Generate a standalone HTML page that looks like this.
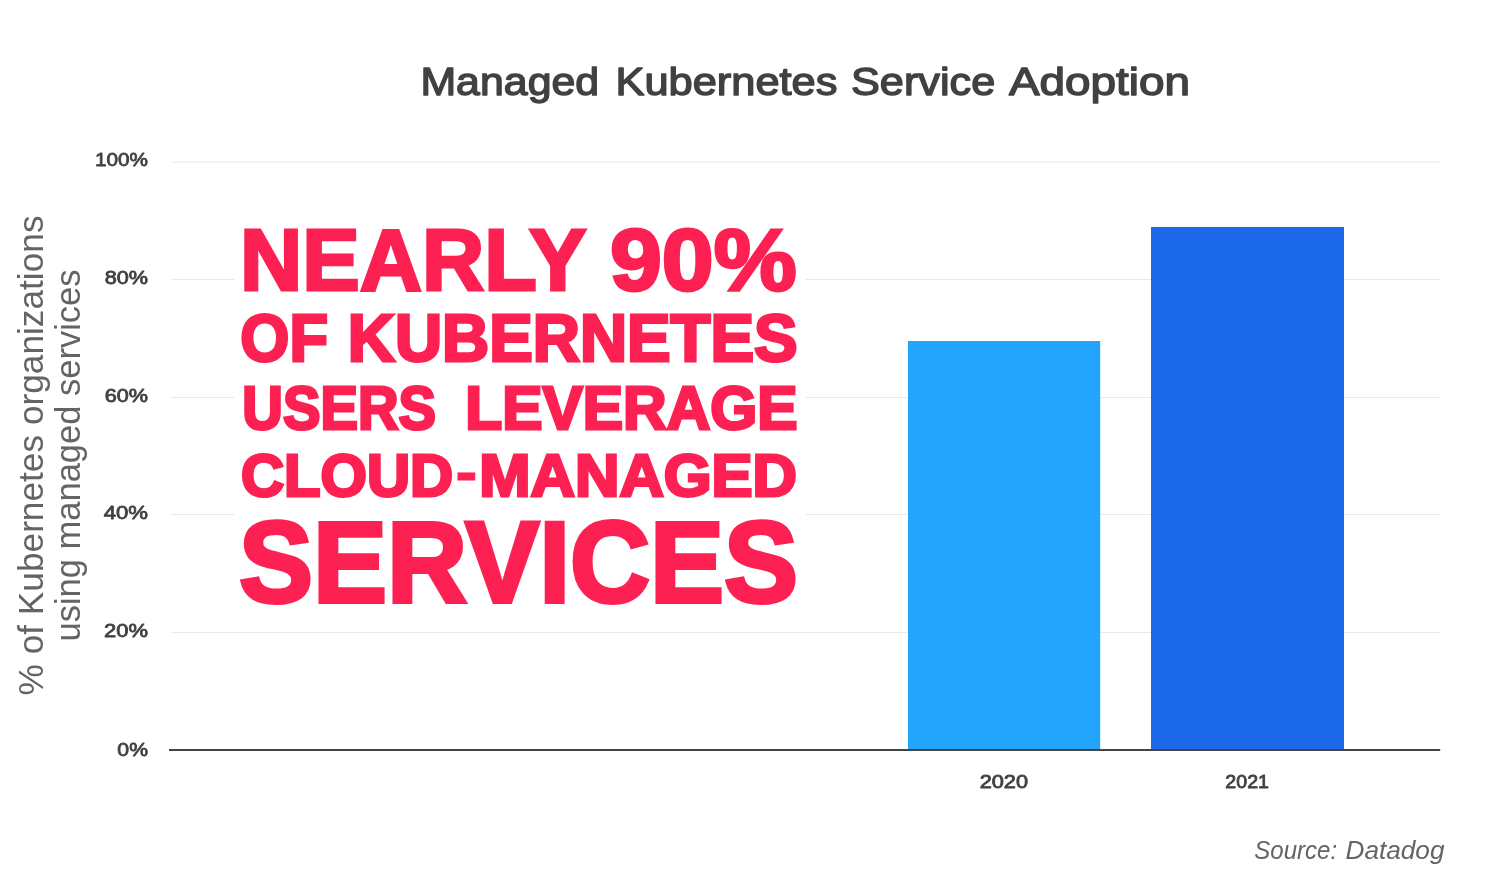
<!DOCTYPE html>
<html lang="en">
<head>
<meta charset="utf-8">
<title>Managed Kubernetes Service Adoption</title>
<style>
  html, body { margin: 0; padding: 0; background: #ffffff; }
  body { width: 1500px; height: 891px; overflow: hidden; }
  svg { display: block; will-change: transform; }
  text { font-family: "Liberation Sans", sans-serif; }
  .num   { fill: #414042; stroke: #414042; stroke-linejoin: round; }
  .title { fill: #414042; stroke: #414042; stroke-linejoin: round; }
  .ylab  { font-size: 35px; fill: #636466; text-anchor: middle; }
  .src   { fill: #636466; font-style: italic; }
  .hl    { font-weight: bold; fill: #fc2152; stroke: #fc2152; stroke-linejoin: miter; }
</style>
</head>
<body>
<svg width="1500" height="891" viewBox="0 0 1500 891">
  <rect x="0" y="0" width="1500" height="891" fill="#ffffff"/>

  <!-- title -->
  <text class="title" y="95.20" font-size="39.54" stroke-width="1.4"><tspan x="420.41" textLength="178.75" lengthAdjust="spacingAndGlyphs">Managed</tspan> <tspan x="615.44" textLength="221.98" lengthAdjust="spacingAndGlyphs">Kubernetes</tspan> <tspan x="850.98" textLength="144.34" lengthAdjust="spacingAndGlyphs">Service</tspan> <tspan x="1009.01" textLength="181.01" lengthAdjust="spacingAndGlyphs">Adoption</tspan></text>

  <!-- horizontal grid lines -->
  <g fill="#e8e8e8">
    <rect x="171" y="161.5" width="1269" height="1"/>
    <rect x="171" y="279" width="1269" height="1"/>
    <rect x="171" y="397" width="1269" height="1"/>
    <rect x="171" y="514" width="1269" height="1"/>
    <rect x="171" y="632" width="1269" height="1"/>
  </g>

  <!-- y tick labels -->
  <text class="num" y="166.00" font-size="19.19" stroke-width="0.8"><tspan x="95.01" textLength="52.99" lengthAdjust="spacingAndGlyphs">100%</tspan></text>
  <text class="num" y="283.90" font-size="19.19" stroke-width="0.8"><tspan x="104.67" textLength="43.33" lengthAdjust="spacingAndGlyphs">80%</tspan></text>
  <text class="num" y="402.10" font-size="19.19" stroke-width="0.8"><tspan x="104.67" textLength="43.33" lengthAdjust="spacingAndGlyphs">60%</tspan></text>
  <text class="num" y="519.10" font-size="19.19" stroke-width="0.8"><tspan x="103.67" textLength="44.33" lengthAdjust="spacingAndGlyphs">40%</tspan></text>
  <text class="num" y="637.10" font-size="19.19" stroke-width="0.8"><tspan x="104.02" textLength="43.98" lengthAdjust="spacingAndGlyphs">20%</tspan></text>
  <text class="num" y="756.40" font-size="19.19" stroke-width="0.8"><tspan x="117.37" textLength="30.63" lengthAdjust="spacingAndGlyphs">0%</tspan></text>

  <!-- y axis caption -->
  <text class="ylab" transform="translate(43.3 455.5) rotate(-90)" textLength="480" lengthAdjust="spacingAndGlyphs">% of Kubernetes organizations</text>
  <text class="ylab" transform="translate(79.6 455.5) rotate(-90)" textLength="372" lengthAdjust="spacingAndGlyphs">using managed services</text>

  <!-- bars -->
  <rect x="908" y="341" width="192.2" height="408.5" fill="#23a4fd"/>
  <rect x="1151" y="227" width="193" height="522.5" fill="#1c68ea"/>

  <!-- baseline axis -->
  <rect x="169" y="749" width="1271.2" height="2" fill="#434344"/>

  <!-- x labels -->
  <text class="num" y="788.28" font-size="18.68" stroke-width="0.85"><tspan x="979.67" textLength="48.33" lengthAdjust="spacingAndGlyphs">2020</tspan></text>
  <text class="num" y="788.28" font-size="18.68" stroke-width="0.85"><tspan x="1225.34" textLength="43.66" lengthAdjust="spacingAndGlyphs">2021</tspan></text>

  <!-- headline: white plate hides the grid lines behind it -->
  <rect x="234" y="215" width="572" height="400" fill="#ffffff"/>
  <text class="hl" y="289.50" font-size="87.21" stroke-width="3.0"><tspan x="239.96" textLength="345.03" lengthAdjust="spacingAndGlyphs">NEARLY</tspan> <tspan x="609.97" textLength="186.66" lengthAdjust="spacingAndGlyphs">90%</tspan></text>
  <text class="hl" y="361.20" font-size="66.13" stroke-width="3.0"><tspan x="240.34" textLength="87.69" lengthAdjust="spacingAndGlyphs">OF</tspan> <tspan x="347.87" textLength="449.65" lengthAdjust="spacingAndGlyphs">KUBERNETES</tspan></text>
  <text class="hl" y="429.20" font-size="61.48" stroke-width="3.0"><tspan x="242.36" textLength="193.66" lengthAdjust="spacingAndGlyphs">USERS</tspan> <tspan x="465.37" textLength="332.15" lengthAdjust="spacingAndGlyphs">LEVERAGE</tspan></text>
  <text class="hl" y="496.30" font-size="59.59" stroke-width="3.0"><tspan x="240.99" textLength="212.23" lengthAdjust="spacingAndGlyphs">CLOUD</tspan><tspan x="455.42" dy="-4.5" stroke-width="1" textLength="21.84" lengthAdjust="spacingAndGlyphs">-</tspan><tspan x="479.36" dy="4.5" textLength="317.65" lengthAdjust="spacingAndGlyphs">MANAGED</tspan></text>
  <text class="hl" y="602.40" font-size="114.39" stroke-width="4.0"><tspan x="239.09" textLength="558.95" lengthAdjust="spacingAndGlyphs">SERVICES</tspan></text>

  <!-- source -->
  <text class="src" y="858.70" font-size="25.00" stroke-width="0.0"><tspan x="1254.34" textLength="82.82" lengthAdjust="spacingAndGlyphs">Source:</tspan> <tspan x="1345.49" textLength="99.01" lengthAdjust="spacingAndGlyphs">Datadog</tspan></text>
</svg>
</body>
</html>
